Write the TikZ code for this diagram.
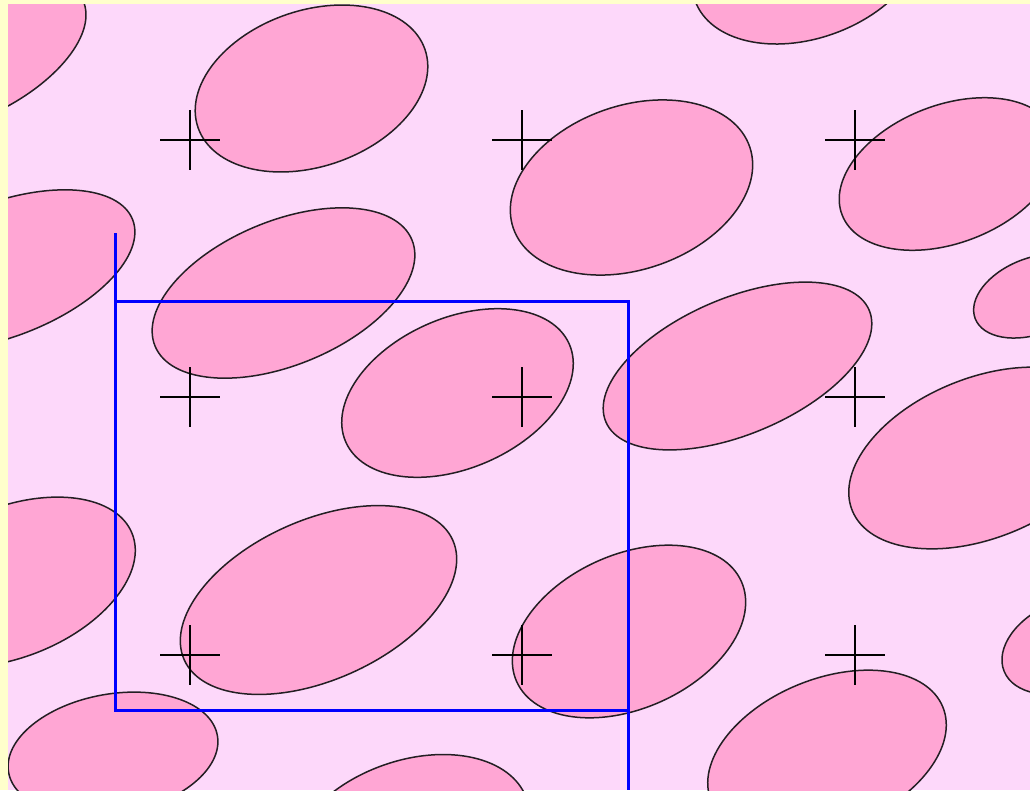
\documentclass[tikz,border=0pt]{standalone}
\definecolor{paper}{RGB}{255,255,204}
\definecolor{backpink}{RGB}{253,216,250}
\definecolor{blobpink}{RGB}{255,166,212}
\definecolor{outline}{RGB}{35,30,35}
\begin{document}
\begin{tikzpicture}[x=1pt, y=-1pt,
		blob/.style={fill=blobpink, draw=outline, line width=1.5pt},
		cross/.style={black, line width=2.5pt},
		frame/.style={blue, line width=3pt}]
		\useasboundingbox (0,0) rectangle (1030,790);
		\fill[paper] (0,0) rectangle (1030,790);
		\fill[backpink] (8,4) rectangle (1030,790);

		\begin{scope}
		\clip (8,4) rectangle (1030,790);
		\draw[blob, rotate around={25:(-35,55)}] (-35,55) ellipse (130 and 65);
		\draw[blob, rotate around={19:(311.5,88.5)}] (311.5,88.5) ellipse (120 and 78);
		\draw[blob, rotate around={20:(808,-40)}] (808,-40) ellipse (120 and 78);
		\draw[blob, rotate around={19:(631.5,187.5)}] (631.5,187.5) ellipse (125 and 82);
		\draw[blob, rotate around={21:(948.5,174)}] (948.5,174) ellipse (114 and 69);

		\draw[blob, rotate around={21:(2,270)}] (2,270) ellipse (140 and 67);
		\draw[blob, rotate around={22.5:(283.5,293)}] (283.5,293) ellipse (139 and 72);
		\draw[blob, rotate around={23.6:(457.5,393)}] (457.5,393) ellipse (122 and 75);
		\draw[blob, rotate around={23:(737.5,366)}] (737.5,366) ellipse (143 and 68);
		\draw[blob, rotate around={21:(1034,296)}] (1034,296) ellipse (63 and 38);
		\draw[blob, rotate around={22:(982,458)}] (982,458) ellipse (140 and 80);

		\draw[blob, rotate around={22:(11.5,582)}] (11.5,582) ellipse (130 and 75);
		\draw[blob, rotate around={24:(318.5,600)}] (318.5,600) ellipse (147 and 80);
		\draw[blob, rotate around={24:(629,631.5)}] (629,631.5) ellipse (123 and 77);
		\draw[blob, rotate around={22:(1069,645)}] (1069,645) ellipse (70 and 45);

		\draw[blob, rotate around={10:(113,754)}] (113,754) ellipse (106 and 60);
		\draw[blob, rotate around={20:(409,841)}] (409,841) ellipse (125 and 80);
		\draw[blob, rotate around={22:(827,754)}] (827,754) ellipse (125 and 75);
		\end{scope}

		\foreach \x in {190,522,855}
			\foreach \y in {140,397,655}
				\draw[cross] (\x-30,\y) -- (\x+30,\y) (\x,\y-30) -- (\x,\y+30);

		\draw[frame] (115,233) -- (115,710) -- (628,710) -- (628,790);
		\draw[frame] (115,301) -- (628,301) -- (628,710);
	\end{tikzpicture}
\end{document}
